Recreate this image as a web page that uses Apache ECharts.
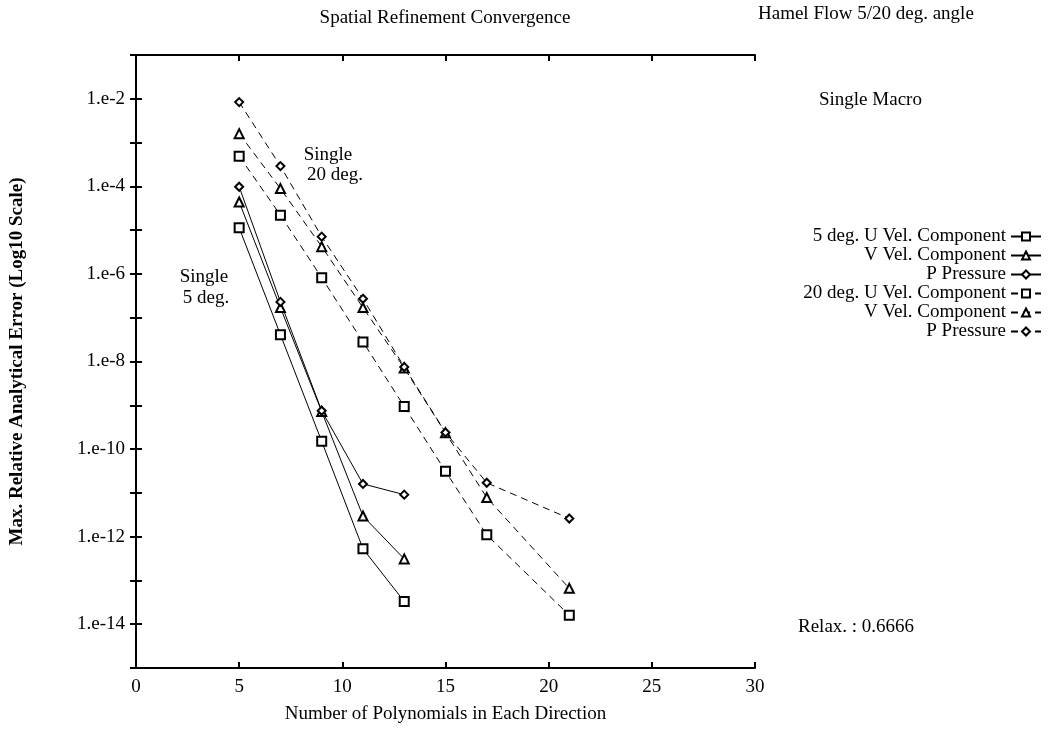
<!DOCTYPE html>
<html>
<head>
<meta charset="utf-8">
<script src="https://cdn.jsdelivr.net/npm/echarts@6/dist/echarts.min.js"></script>
<style>
html,body{margin:0;padding:0;background:#fff;}
#chart{width:1048px;height:729px;}
</style>
</head>
<body>
<div id="chart"></div>
<script>
// ---- data ----
const x5deg = [5, 7, 9, 11, 13];
const u5deg = [1.13e-5, 4.1e-8, 1.5e-10, 5.3e-13, 3.3e-14];
const v5deg = [4.4e-5, 1.7e-7, 7.2e-10, 2.95e-12, 3.1e-13];
const p5deg = [9.8e-5, 2.3e-7, 7.5e-10, 1.6e-11, 9.1e-12];

const x20deg = [5, 7, 9, 11, 13, 15, 17, 21];
const u20deg = [4.9e-4, 2.2e-5, 8.2e-7, 2.8e-8, 9.4e-10, 3.1e-11, 1.1e-12, 1.6e-14];
const v20deg = [1.6e-3, 8.9e-5, 4.2e-6, 1.7e-7, 7.1e-9, 2.35e-10, 7.8e-12, 6.6e-14];
const p20deg = [8.4e-3, 2.9e-4, 7.1e-6, 2.7e-7, 7.5e-9, 2.4e-10, 1.7e-11, 2.6e-12];

const xTicks = [0, 5, 10, 15, 20, 25, 30];
const yExponents = [-15, -14, -13, -12, -11, -10, -9, -8, -7, -6, -5, -4, -3, -2, -1];

const seriesNames = ['5 deg. U Vel. Component', '5 deg. V Vel. Component', '5 deg. P Pressure',
                     '20 deg. U Vel. Component', '20 deg. V Vel. Component', '20 deg. P Pressure'];
const legendLabels = ['5 deg. U Vel. Component', 'V Vel. Component', 'P Pressure',
                      '20 deg. U Vel. Component', 'V Vel. Component', 'P Pressure'];

const FONT = '"Liberation Serif", "Times New Roman", serif';
const FS = 19;

function pairs(xs, ys) { return xs.map((x, i) => [x, Math.log10(ys[i])]); }

function mk(name, xs, ys, symbol, size, dashed) {
  return {
    name: name, type: 'line', data: pairs(xs, ys),
    symbol: symbol, symbolSize: size,
    showAllSymbol: true,
    lineStyle: { color: '#000', width: 1, type: dashed ? [7, 5] : 'solid' },
    itemStyle: { color: '#000', borderColor: '#000', borderWidth: 1.2 },
    emphasis: { disabled: true },
    animation: false
  };
}

const chart = echarts.init(document.getElementById('chart'), null, { renderer: 'canvas' });

const axisCommon = {
  axisLine: { show: true, lineStyle: { color: '#000', width: 2 } },
  axisTick: { show: true, inside: true, length: 6, lineStyle: { color: '#000', width: 2 } },
  splitLine: { show: false }
};

function txt(text, x, y, align) {
  return { type: 'text', x: x, y: y,
           style: { text: text, font: FS + 'px ' + FONT, fill: '#000', align: align || 'left', verticalAlign: 'middle' } };
}

chart.setOption({
  backgroundColor: '#fff',
  animation: false,
  textStyle: { fontFamily: FONT, color: '#000' },
  grid: { left: 136, right: 293, top: 55, bottom: 58 },
  xAxis: [
    Object.assign({
      type: 'value', min: xTicks[0], max: xTicks[xTicks.length - 1], interval: 5, position: 'bottom',
      name: 'Number of Polynomials in Each Direction', nameLocation: 'middle', nameGap: 37,
      nameTextStyle: { fontFamily: FONT, fontSize: FS, color: '#000' },
      axisLabel: { fontFamily: FONT, fontSize: FS, color: '#000', margin: 10 }
    }, axisCommon),
    Object.assign({
      type: 'value', min: xTicks[0], max: xTicks[xTicks.length - 1], interval: 5, position: 'top',
      axisLabel: { show: false }
    }, axisCommon)
  ],
  yAxis: [
    Object.assign({
      type: 'value', min: yExponents[0], max: yExponents[yExponents.length - 1], interval: 1, position: 'left',
      name: 'Max. Relative Analytical Error (Log10 Scale)', nameLocation: 'middle', nameGap: 109,
      nameRotate: 90,
      nameTextStyle: { fontFamily: FONT, fontSize: FS, fontWeight: 'bold', color: '#000' },
      axisLabel: {
        fontFamily: FONT, fontSize: FS, color: '#000', margin: 11,
        formatter: v => (v % 2 === 0 ? '1.e' + v : '')
      }
    }, axisCommon),
    Object.assign({
      type: 'value', min: yExponents[0], max: yExponents[yExponents.length - 1], interval: 1, position: 'right',
      axisLabel: { show: false }
    }, axisCommon)
  ],
  legend: {
    orient: 'vertical', right: 1, top: 222, align: 'right',
    itemWidth: 30, itemHeight: 10, itemGap: 0,
    selectedMode: false,
    data: seriesNames,
    formatter: n => legendLabels[seriesNames.indexOf(n)],
    textStyle: { fontFamily: FONT, fontSize: FS, color: '#000', lineHeight: 19 }
  },
  graphic: [
    txt('Spatial Refinement Convergence', 445, 18, 'center'),
    txt('Hamel Flow 5/20 deg. angle', 758, 14),
    txt('Single Macro', 819, 100),
    txt('Relax. : 0.6666', 798, 627),
    txt('Single', 328, 155, 'center'),
    txt('20 deg.', 335, 175, 'center'),
    txt('Single', 204, 277, 'center'),
    txt('5 deg.', 206, 298, 'center')
  ],
  series: [
    mk(seriesNames[0], x5deg, u5deg, 'emptyRect', 9, false),
    mk(seriesNames[1], x5deg, v5deg, 'emptyTriangle', 9, false),
    mk(seriesNames[2], x5deg, p5deg, 'emptyDiamond', 8, false),
    mk(seriesNames[3], x20deg, u20deg, 'emptyRect', 9, true),
    mk(seriesNames[4], x20deg, v20deg, 'emptyTriangle', 9, true),
    mk(seriesNames[5], x20deg, p20deg, 'emptyDiamond', 8, true)
  ]
});
</script>
</body>
</html>
